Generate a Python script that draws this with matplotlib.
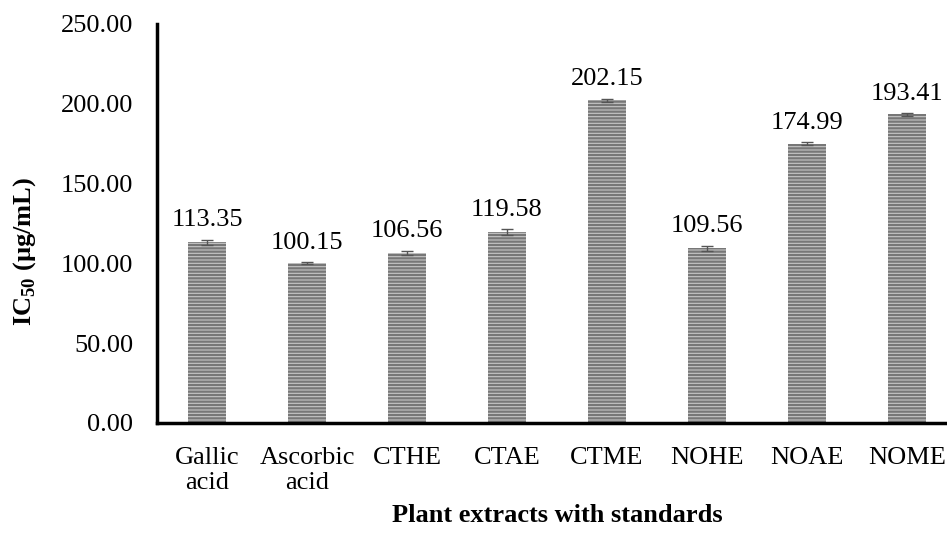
import matplotlib
matplotlib.use("Agg")
import matplotlib.pyplot as plt
import numpy as np

plt.rcParams["font.family"] = ["Liberation Serif", "DejaVu Serif"]
plt.rcParams["mathtext.fontset"] = "custom"
plt.rcParams["mathtext.rm"] = "Liberation Serif"
plt.rcParams["mathtext.bf"] = "Liberation Serif:bold"
plt.rcParams["hatch.linewidth"] = 1.6

# data
categories = ["Gallic\nacid", "Ascorbic\nacid", "CTHE", "CTAE", "CTME", "NOHE", "NOAE", "NOME"]
ic50       = [113.35, 100.15, 106.56, 119.58, 202.15, 109.56, 174.99, 193.41]
errors     = [1.6, 0.6, 1.5, 1.8, 1.0, 1.6, 0.9, 0.9]
yticks     = [0, 50, 100, 150, 200, 250]

fig = plt.figure(figsize=(9.47, 5.33), dpi=100)
ax = fig.add_axes([0.1658, 0.2064, 0.8448, 0.7486])

x = np.arange(len(categories))
ax.bar(x, ic50, width=0.38, color="#c6c6c6", edgecolor="#777777",
       hatch="-----", linewidth=0)
ax.errorbar(x, ic50, yerr=errors, fmt="none", ecolor="#555555",
            elinewidth=1, capsize=4, capthick=1)

for xi, v, e in zip(x, ic50, errors):
    ax.annotate(f"{v:.2f}", (xi, v + e), xytext=(0, 6), textcoords="offset points",
                ha="center", va="bottom", fontsize=19)

ax.set_xlim(-0.5, 7.5)
ax.set_ylim(0, 250)
ax.set_yticks(yticks)
ax.set_yticklabels([f"{t:.2f}" for t in yticks], fontsize=19)
ax.set_xticks(x)
ax.set_xticklabels(categories, fontsize=19, linespacing=1.22)
ax.tick_params(axis="both", length=0)
ax.tick_params(axis="x", pad=17)
ax.tick_params(axis="y", pad=17)

for side in ["top", "right"]:
    ax.spines[side].set_visible(False)
for side in ["left", "bottom"]:
    ax.spines[side].set_linewidth(2.5)

fig.text(0.026, 0.529, "IC$_{\\mathbf{50}}$ (µg/mL)", rotation=90, ha="center", va="center",
         fontsize=19, fontweight="bold")
fig.text(0.588, 0.032, "Plant extracts with standards", ha="center", va="center",
         fontsize=19, fontweight="bold")

fig.savefig("out.png", dpi=100)
